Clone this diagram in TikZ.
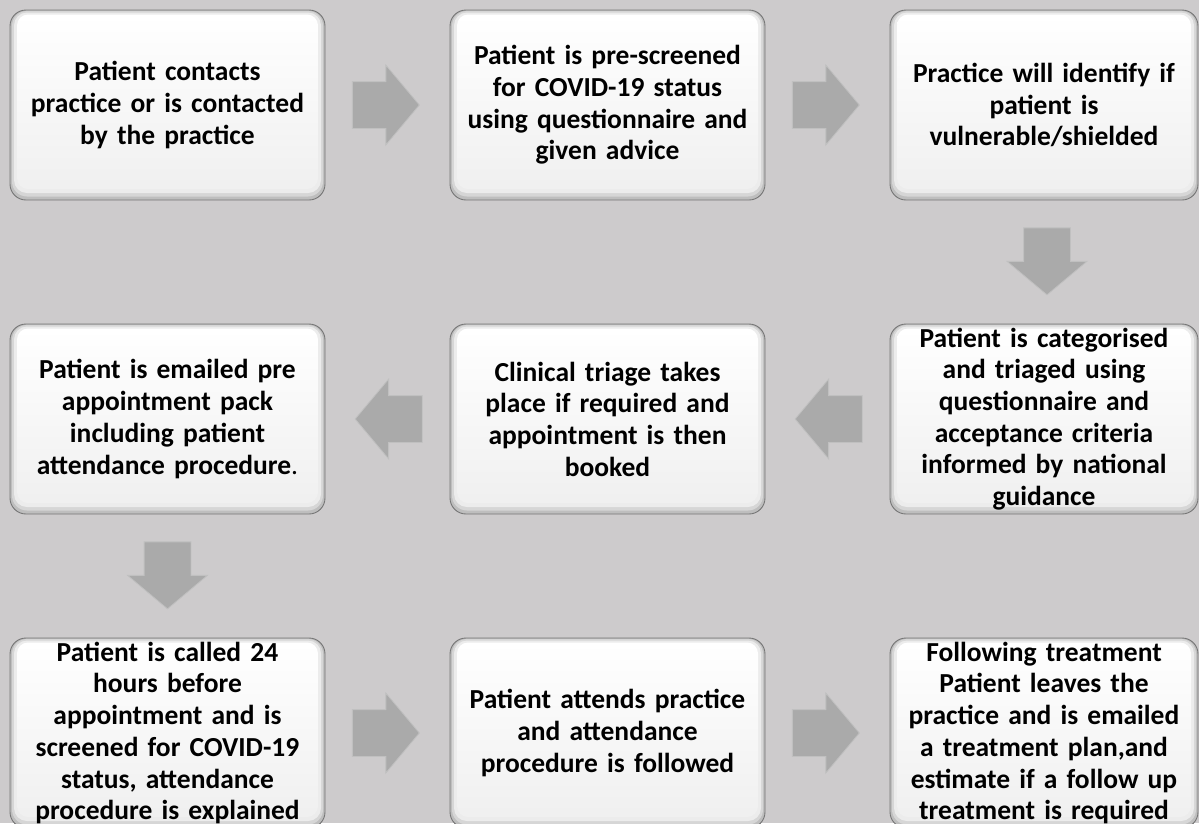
\documentclass[tikz,border=0pt]{standalone}
\usepackage{fontspec}
\setmainfont{Carlito}
\usetikzlibrary{shapes.arrows,calc}
\definecolor{bgc}{RGB}{205,203,204}
\definecolor{boxedge}{RGB}{118,118,118}
\definecolor{rimA}{RGB}{190,190,190}
\definecolor{rimB}{RGB}{214,214,214}
\definecolor{rimC}{RGB}{236,236,236}
\definecolor{arrfill}{RGB}{170,170,170}
\definecolor{arredge}{RGB}{192,192,192}
\begin{document}
\begin{tikzpicture}[x=1pt,y=-1pt,
  stepbox/.style={draw=boxedge, line width=0.9pt, fill=rimA, rounded corners=16pt,
    minimum width=315pt, minimum height=190pt, text width=300pt, inner sep=0pt,
    align=center, font=\fontsize{27.5pt}{31.7pt}\selectfont\bfseries,
    path picture={
      \fill[rimB, rounded corners=15pt] ([shift={(2pt,3.5pt)}]path picture bounding box.south west) rectangle ([shift={(-2pt,-1pt)}]path picture bounding box.north east);
      \fill[rimC, rounded corners=13pt] ([shift={(4pt,7pt)}]path picture bounding box.south west) rectangle ([shift={(-4pt,-2.5pt)}]path picture bounding box.north east);
      \shade[top color=white, bottom color=white!94!black, rounded corners=11pt] ([shift={(7pt,11pt)}]path picture bounding box.south west) rectangle ([shift={(-7pt,-4.5pt)}]path picture bounding box.north east);
    }},
  blockarrow/.style={single arrow, draw=arredge, fill=arrfill, line width=0.8pt,
    inner xsep=0pt, inner ysep=23pt, minimum height=67pt, minimum width=1pt,
    single arrow head extend=16.5pt, single arrow tip angle=100, anchor=tail}
]
\path[use as bounding box] (0,0) rectangle (1199,823);
\clip (0,0) rectangle (1199,823);
\fill[bgc] (0,0) rectangle (1199,823);

\node[stepbox] (b1) at (167.5,105) {Patient contacts\\practice or is contacted\\by the practice};
\node[stepbox] (b2) at (607.5,105) {Patient is pre-screened\\for COVID-19 status\\using questionnaire and\\given advice};
\node[stepbox, minimum width=308pt] (b3) at (1044,105) {Practice will identify if\\patient is\\vulnerable/shielded};
\node[stepbox, minimum width=308pt] (b4) at (1044,419) {Patient is categorised\\and triaged using\\questionnaire and\\acceptance criteria\\informed by national\\guidance};
\node[stepbox] (b5) at (607.5,419) {Clinical triage takes\\place if required and\\appointment is then\\booked};
\node[stepbox] (b6) at (167.5,419) {Patient is emailed pre\\appointment pack\\including patient\\attendance procedure\textmd{.}};
\node[stepbox] (b7) at (167.5,733) {Patient is called 24\\hours before\\appointment and is\\screened for COVID-19\\status, attendance\\procedure is explained};
\node[stepbox] (b8) at (607.5,733) {Patient attends practice\\and attendance\\procedure is followed};
\node[stepbox, minimum width=308pt] (b9) at (1044,733) {Following treatment\\Patient leaves the\\practice and is emailed\\a treatment plan,and\\estimate if a follow up\\treatment is required};

\node[blockarrow] (a1) at ($(b1.east)+(26.5pt,0pt)$) {};
\node[blockarrow] (a2) at ($(b2.east)+(26.5pt,0pt)$) {};
\node[blockarrow, rotate=-90] (a3) at ($(b3.south)+(3pt,-27pt)$) {};
\node[blockarrow, rotate=180] (a4) at ($(b4.west)+(-27pt,0pt)$) {};
\node[blockarrow, rotate=180] (a5) at ($(b5.west)+(-27pt,0pt)$) {};
\node[blockarrow, rotate=-90] (a6) at ($(b6.south)+(0pt,-27pt)$) {};
\node[blockarrow] (a7) at ($(b7.east)+(26.5pt,0pt)$) {};
\node[blockarrow] (a8) at ($(b8.east)+(26.5pt,0pt)$) {};
\end{tikzpicture}
\end{document}
